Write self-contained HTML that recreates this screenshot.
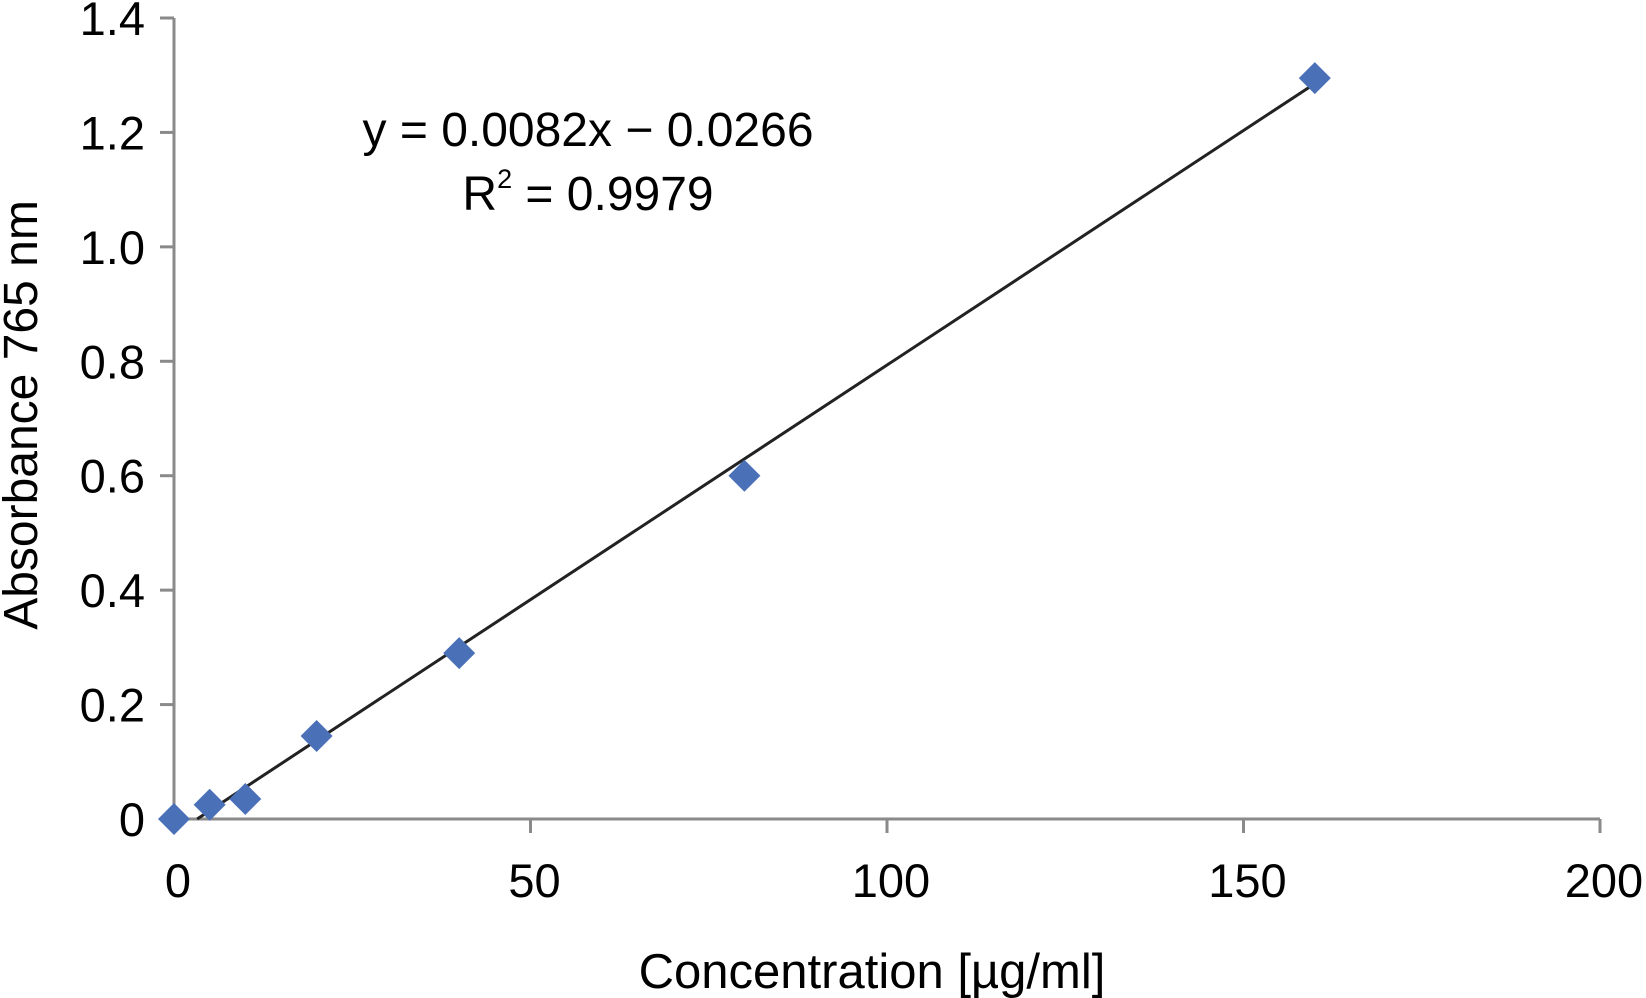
<!DOCTYPE html>
<html><head><meta charset="utf-8"><style>
html,body{margin:0;padding:0;background:#fff;}
svg{display:block;font-family:"Liberation Sans",Arial,sans-serif;}
</style></head><body>
<svg id="chart" width="1646" height="998" viewBox="0 0 1646 998" xmlns="http://www.w3.org/2000/svg">
<rect width="1646" height="998" fill="#fff"/>
<g id="axes"></g>
<g id="marks"></g>
<text x="588" y="146" font-size="48" text-anchor="middle" fill="#000">y = 0.0082x − 0.0266</text>
<text x="588" y="210" font-size="48" text-anchor="middle" fill="#000">R<tspan dy="-22" font-size="27">2</tspan><tspan dy="22"> = 0.9979</tspan></text>
<text transform="translate(37,415) rotate(-90)" font-size="48" text-anchor="middle" fill="#000">Absorbance 765 nm</text>
<text x="872" y="988" font-size="49" text-anchor="middle" fill="#000">Concentration [µg/ml]</text>
</svg>
<script>
const xValues = [0, 5, 10, 20, 40, 80, 160];
const yValues = [0, 0.025, 0.035, 0.145, 0.29, 0.6, 1.295];
const xTicks = [0, 50, 100, 150, 200];
const yTicks = [0, 0.2, 0.4, 0.6, 0.8, 1.0, 1.2, 1.4];
const yTickLabels = ["0", "0.2", "0.4", "0.6", "0.8", "1.0", "1.2", "1.4"];
const slope = 0.0082, intercept = -0.0266;

const X0 = 174, X1 = 1600, Y0 = 819, Y1 = 18;
const xs = v => X0 + (v - 0) / 200 * (X1 - X0);
const ys = v => Y0 - (v - 0) / 1.4 * (Y0 - Y1);
const NS = "http://www.w3.org/2000/svg";
function mk(tag, attrs, parent) {
  const e = document.createElementNS(NS, tag);
  for (const k in attrs) e.setAttribute(k, attrs[k]);
  parent.appendChild(e);
  return e;
}
const axes = document.getElementById('axes');
const marks = document.getElementById('marks');

const ya = mk('line', {x1: X0, y1: Y1, x2: X0, y2: Y0, stroke: '#8a8a8a', 'stroke-width': 3}, axes);


const xa = mk('line', {x1: X0, y1: Y0, x2: X1, y2: Y0, stroke: '#8a8a8a', 'stroke-width': 3}, axes);



yTicks.forEach((t, i) => {
  const y = ys(t);
  const tk = mk('line', {x1: X0 - 14, y1: y, x2: X0, y2: y, stroke: '#8a8a8a', 'stroke-width': 3}, axes);
  
  
  const lb = mk('text', {x: 145, y: y + 17, 'font-size': 47, 'text-anchor': 'end', fill: '#000'}, axes);
  lb.textContent = yTickLabels[i];
  
  
});
xTicks.forEach(t => {
  const x = xs(t);
  const tk = mk('line', {x1: x, y1: Y0, x2: x, y2: Y0 + 14, stroke: '#8a8a8a', 'stroke-width': 3}, axes);
  
  
  const lb = mk('text', {x: x + 4, y: 897, 'font-size': 47, 'text-anchor': 'middle', fill: '#000'}, axes);
  lb.textContent = String(t);
  
  
});

const xStart = -intercept / slope, xEnd = xValues[xValues.length - 1];
const tl = mk('line', {x1: xs(xStart), y1: ys(slope * xStart + intercept), x2: xs(xEnd), y2: ys(slope * xEnd + intercept), stroke: '#222', 'stroke-width': 3}, marks);



xValues.forEach((v, i) => {
  const cx = xs(v), cy = ys(yValues[i]), r = 16;
  const p = mk('polygon', {points: `${cx},${cy - r} ${cx + r},${cy} ${cx},${cy + r} ${cx - r},${cy}`, fill: '#4a70b8'}, marks);
  
  
});
</script>
</body></html>
